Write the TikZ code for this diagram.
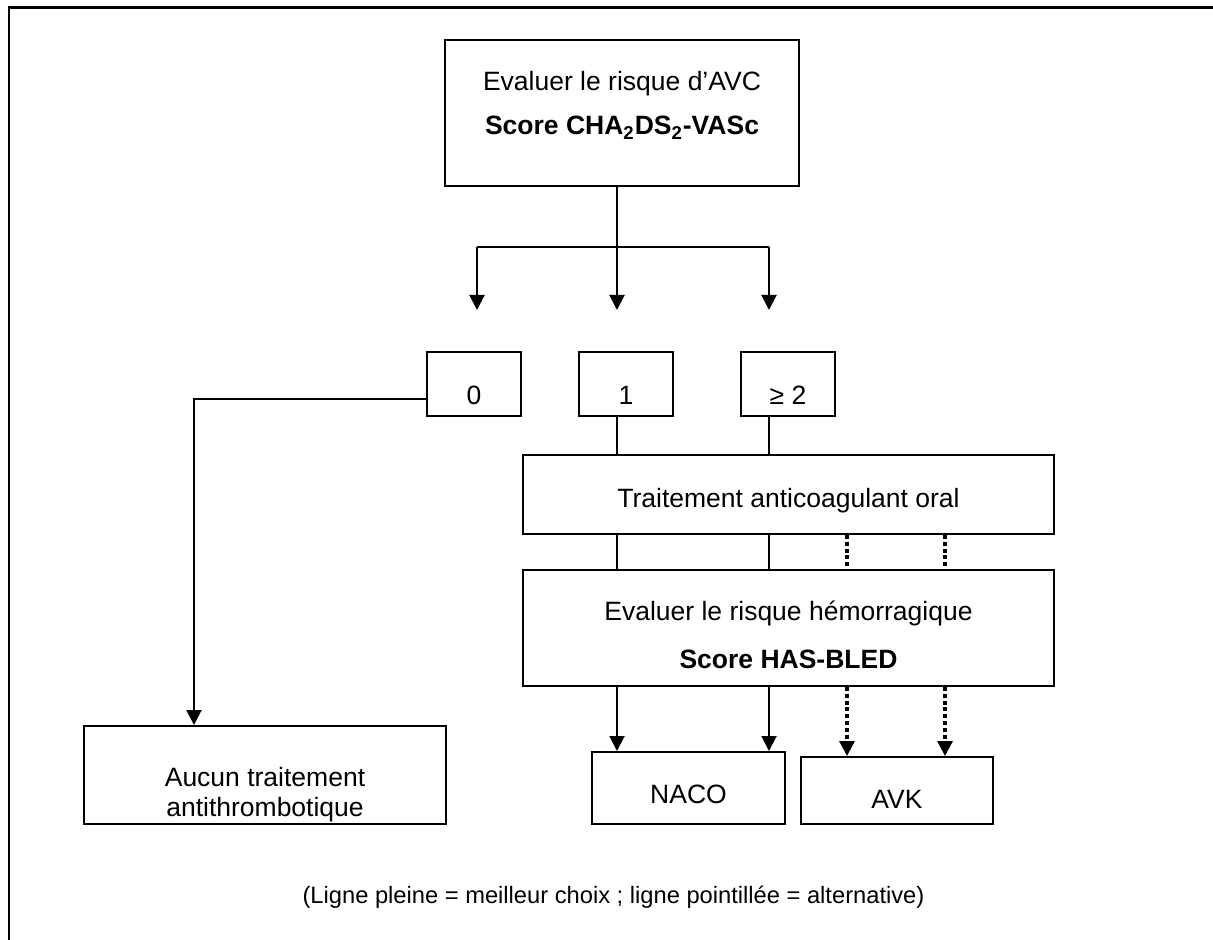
\documentclass[tikz,border=0pt]{standalone}
\usepackage{fontspec}
\setmainfont{Liberation Sans}
\usetikzlibrary{positioning,arrows.meta}
\newcommand{\topgap}[1]{\rule{0pt}{#1}}
\newcommand{\botgap}[1]{\rule[-#1]{0pt}{#1}}

\begin{document}
\begin{tikzpicture}[
    x=0.5pt, y=-0.5pt,
    >={Triangle[length=7.5pt, width=7.5pt]},
    font=\fontsize{13.25}{15.25}\selectfont,
    box/.style={rectangle, draw, line width=1pt, inner xsep=3pt,
                inner ysep=0pt, align=center},
    score/.style={box, minimum width=47pt, minimum height=32pt,
                  text height=21pt, text depth=0pt},
    link/.style={line width=1pt},
    alt/.style={line width=1.6pt, dash pattern=on 2pt off 1.4pt},
    border/.style={line width=1.2pt},
    notetext/.style={font=\fontsize{11.85}{14}\selectfont}
  ]
  \useasboundingbox (0,0) rectangle (1213,940);

  % Page frame (only top and left edges show).
  \draw[border] (9,940) |- (1213,7.5);

  % Stroke risk and the three score classes.
  \node[box, minimum width=177pt, minimum height=73pt] (avc) at (622,113)
    {\topgap{9.7pt}Evaluer le risque d’AVC\\[6.75pt]%
     \textbf{Score CHA\textsubscript{2}DS\textsubscript{2}-VASc}\botgap{9.7pt}};
  \node[score]                   (s0) at (474,384) {0};
  \node[score, right=28pt of s0] (s1)              {1};
  \node[score, right=33pt of s1] (s2)              {≥ 2};

  % Anticoagulation, then bleeding risk.
  \node[box, minimum width=265.5pt, minimum height=39.5pt,
        text height=12.5pt, text depth=0pt,
        below right=18.5pt and 0pt of s0] (tao)
    {Traitement anticoagulant oral};
  \node[box, minimum width=265.5pt, minimum height=58pt,
        below=17pt of tao] (has)
    {\topgap{17pt}Evaluer le risque hémorragique\\[8.75pt]%
     \textbf{Score HAS-BLED}};

  % Outcomes.
  \node[box, minimum width=181pt, minimum height=49pt] (aucun) at (265,775)
    {\topgap{29.3pt}Aucun traitement\\antithrombotique};
  \node[box, minimum width=96.5pt, minimum height=36pt,
        text height=15pt, text depth=0pt] (naco) at (688.5,788) {NACO};
  \node[box, minimum width=96pt, minimum height=33.5pt,
        text height=17.5pt, text depth=0pt,
        right=7pt of naco, yshift=-1.25pt] (avk) {AVK};

  \node[notetext, anchor=base] (legend) at (613.5,903.5)
    {(Ligne pleine = meilleur choix ; ligne pointillée = alternative)};

  % Split below the stroke score.
  \coordinate (fork)  at (617,247);
  \coordinate (fk0)   at (477,247);
  \coordinate (fk2)   at (769,247);
  \coordinate (tip0)  at (477,310);
  \coordinate (tip1)  at (617,310);
  \coordinate (tip2)  at (769,310);
  \coordinate (colC)  at (847,0);
  \coordinate (colD)  at (945,0);
  \coordinate (bend0) at (194,399);

  \draw[link] (avc.south -| fork) -- (fork);
  \draw[link] (fk0) -- (fk2);
  \draw[link, ->] (fk0) -- (tip0);
  \draw[link, ->] (fork) -- (tip1);
  \draw[link, ->] (fk2) -- (tip2);

  % Score 0: no treatment.
  \draw[link, ->] (s0.west |- bend0) -- (bend0) -- (aucun.north -| bend0);

  % Scores 1 and 2: into anticoagulation.
  \draw[link] (s1.south -| fork) -- (tao.north -| fork);
  \draw[link] (s2.south -| fk2) -- (tao.north -| fk2);

  % Solid = best choice, dotted = alternative.
  \draw[link] (tao.south -| fork) -- (has.north -| fork);
  \draw[link] (tao.south -| fk2) -- (has.north -| fk2);
  \draw[alt] (tao.south -| colC) -- (has.north -| colC);
  \draw[alt] (tao.south -| colD) -- (has.north -| colD);
  \draw[link, ->] (has.south -| fork) -- (naco.north -| fork);
  \draw[link, ->] (has.south -| fk2) -- (naco.north -| fk2);
  \draw[alt, ->] (has.south -| colC) -- (avk.north -| colC);
  \draw[alt, ->] (has.south -| colD) -- (avk.north -| colD);

\end{tikzpicture}
\end{document}
